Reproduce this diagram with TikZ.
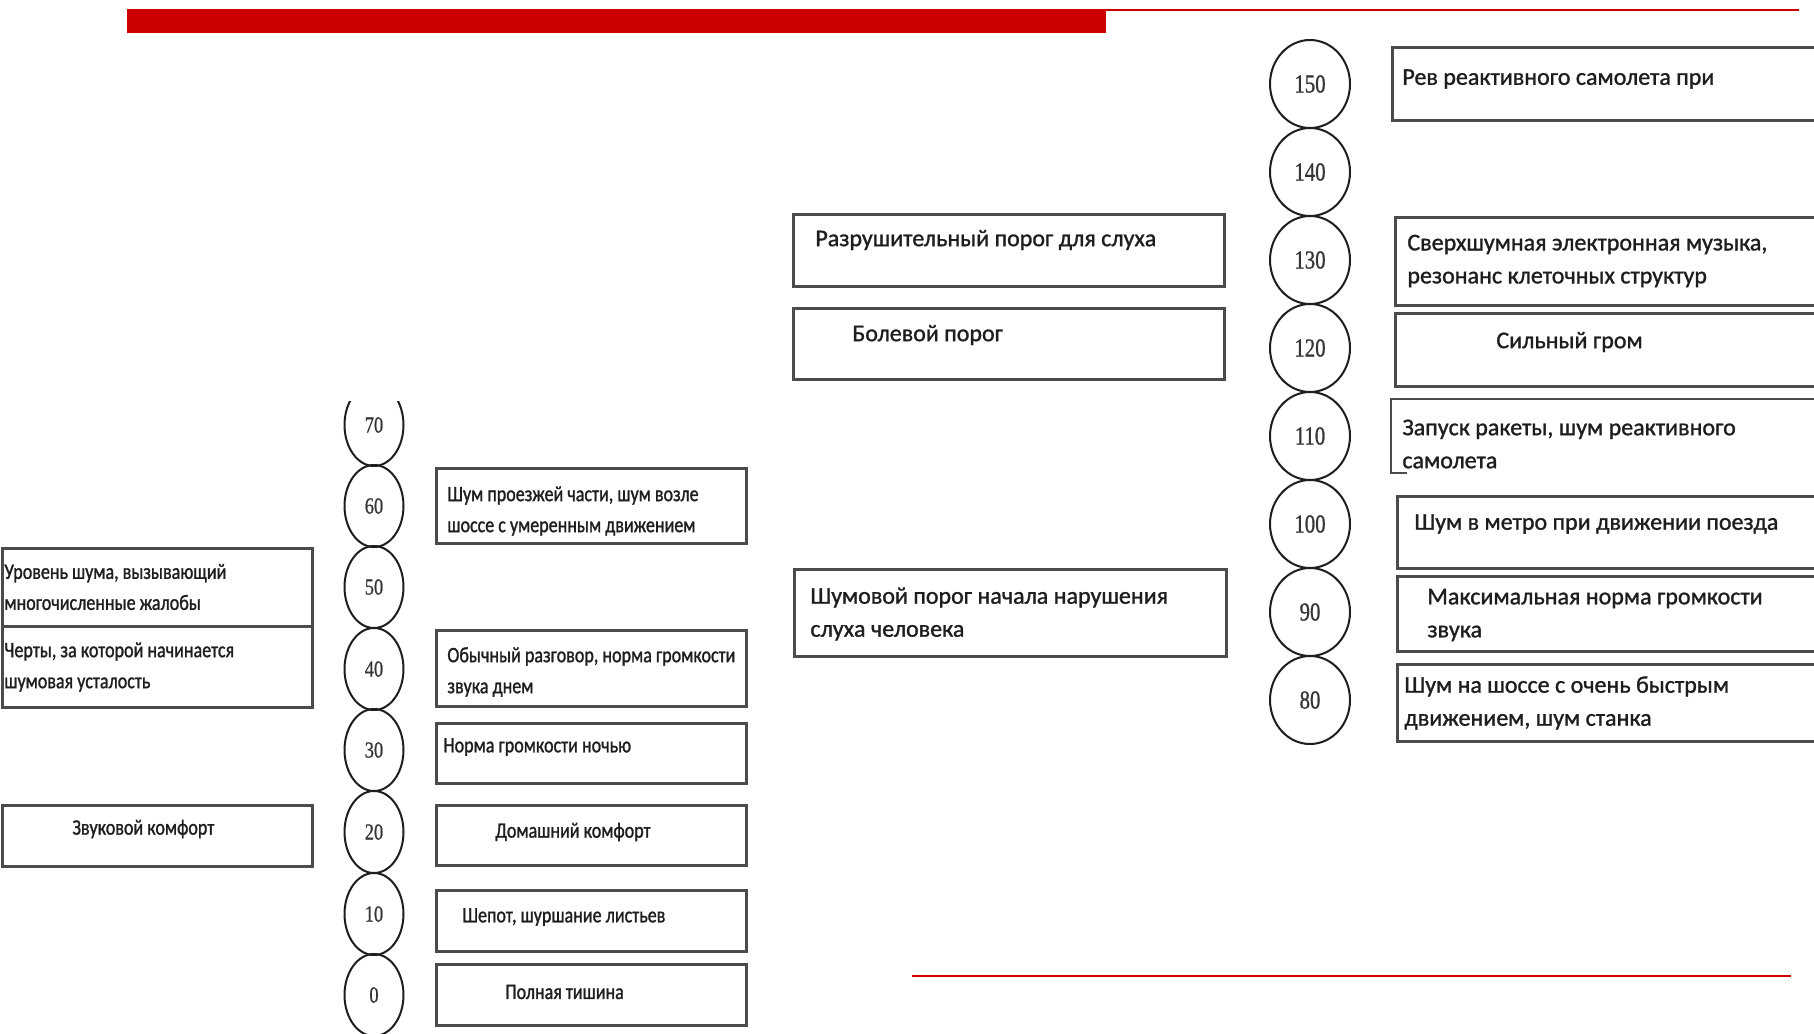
\documentclass[tikz,border=0pt]{standalone}
\usepackage{fontspec}
\setmainfont{Carlito}[FakeBold=1.2]
\newfontfamily\condf[FakeStretch=0.82,FakeBold=1.2]{Carlito}
\newfontfamily\numf[FakeStretch=0.8,FakeBold=0.8]{Liberation Serif}
\usetikzlibrary{shapes.geometric}
\definecolor{slidered}{RGB}{204,0,0}
\definecolor{ink}{RGB}{30,30,30}
\tikzset{
  lvl/.style={ellipse, draw=ink, line width=1pt, inner sep=0pt, text=ink!90},
  lvlS/.style={lvl, minimum width=29.5pt, minimum height=41pt, font=\numf\fontsize{11.5}{12}\selectfont},
  lvlB/.style={lvl, minimum width=40pt, minimum height=44pt, font=\numf\fontsize{13}{14}\selectfont},
  box/.style={draw=ink!80, line width=1.3pt, rectangle, inner sep=0pt, anchor=north west},
  txtS/.style={anchor=west, inner sep=0pt, align=left, text=ink, font=\condf\fontsize{11}{15.5}\selectfont},
  txtB/.style={anchor=west, inner sep=0pt, align=left, text=ink, font=\fontsize{12}{16.5}\selectfont},
}
\newcommand\mkbox[5]{\node[box, minimum width={#4*0.5pt}, minimum height={#5*0.5pt}] (#1) at (#2,#3) {};}
\begin{document}
\begin{tikzpicture}[x=0.5pt,y=-0.5pt]
\useasboundingbox (0,0) rectangle (1814,1033);
\clip (0,0) rectangle (1814,1033);
% red decorations
\fill[slidered] (127,9) rectangle (1106,33);
\draw[slidered, line width=1pt] (1106,10) -- (1799,10);
\draw[slidered, line width=1pt] (912,976) -- (1791,976);
% left column circles
\begin{scope}
\clip (300,401) rectangle (450,480);
\node[lvlS] (c70) at (374,425) {70};
\end{scope}
\node[lvlS] (c60) at (374,506) {60};
\node[lvlS] (c50) at (374,587) {50};
\node[lvlS] (c40) at (374,669) {40};
\node[lvlS] (c30) at (374,750) {30};
\node[lvlS] (c20) at (374,832) {20};
\node[lvlS] (c10) at (374,914) {10};
\node[lvlS] (c0) at (374,995) {0};
% left column boxes
\mkbox{b60}{435}{467}{310}{75}
\mkbox{b40}{435}{629}{310}{76}
\mkbox{b30}{435}{722}{310}{60}
\mkbox{b20}{435}{804}{310}{60}
\mkbox{b10}{435}{889}{310}{61}
\mkbox{b0}{435}{963}{310}{61}
\node[txtS] (t60) at (447,511) {Шум проезжей части, шум возле\\шоссе с умеренным движением};
\node[txtS] (t40) at (447,672) {Обычный разговор, норма громкости\\звука днем};
\node[txtS] (t30) at (443,747) {Норма громкости ночью};
\node[txtS] (t20) at (495,832) {Домашний комфорт};
\node[txtS] (t10) at (462,917) {Шепот, шуршание листьев};
\node[txtS] (t0) at (505,992) {Полная тишина};
% far left boxes
\mkbox{bU}{1}{547}{310}{78}
\mkbox{bC}{1}{625}{310}{81}
\mkbox{bZ}{1}{804}{310}{61}
\node[txtS] (tU) at (4,587) {Уровень шума, вызывающий\\многочисленные жалобы};
\node[txtS] (tC) at (4,667) {Черты, за которой начинается\\шумовая усталость};
\node[txtS] (tZ) at (72,829) {Звуковой комфорт};
% middle boxes
\mkbox{bR}{792}{213}{431}{72}
\mkbox{bB}{792}{307}{431}{71}
\mkbox{bS}{793}{568}{432}{87}
\node[txtB] (tR) at (815,240) {Разрушительный порог для слуха};
\node[txtB] (tB) at (852,335) {Болевой порог};
\node[txtB] (tS) at (810,614) {Шумовой порог начала нарушения\\слуха человека};
% right column circles
\node[lvlB] (c150) at (1310,84) {150};
\node[lvlB] (c140) at (1310,172) {140};
\node[lvlB] (c130) at (1310,260) {130};
\node[lvlB] (c120) at (1310,348) {120};
\node[lvlB] (c110) at (1310,436) {110};
\node[lvlB] (c100) at (1310,524) {100};
\node[lvlB] (c90) at (1310,612) {90};
\node[lvlB] (c80) at (1310,700) {80};
% right column boxes
\mkbox{b150}{1391}{46}{460}{73}
\mkbox{b130}{1394}{216}{460}{88}
\mkbox{b120}{1394}{312}{460}{73}
\node[rectangle, inner sep=0pt, anchor=north west, minimum width=230pt, minimum height=36.5pt] (b110) at (1391,399) {};
\draw[draw=ink!80, line width=1.3pt] ([xshift=8pt]b110.south west) -- (b110.south west) -- (b110.north west) -- (b110.north east);
\mkbox{b100}{1396}{495}{460}{72}
\mkbox{b90}{1396}{575}{460}{75}
\mkbox{b80}{1396}{663}{460}{77}
\node[txtB] (t150) at (1402,79) {Рев реактивного самолета при};
\node[txtB] (t130) at (1407,261) {Сверхшумная электронная музыка,\\резонанс клеточных структур};
\node[txtB] (t120) at (1496,342) {Сильный гром};
\node[txtB] (t110) at (1402,444) {Запуск ракеты, шум реактивного\\самолета};
\node[txtB] (t100) at (1414,524) {Шум в метро при движении поезда};
\node[txtB] (t90) at (1427,615) {Максимальная норма громкости\\звука};
\node[txtB] (t80) at (1404,703) {Шум на шоссе с очень быстрым\\движением, шум станка};
\end{tikzpicture}
\end{document}
